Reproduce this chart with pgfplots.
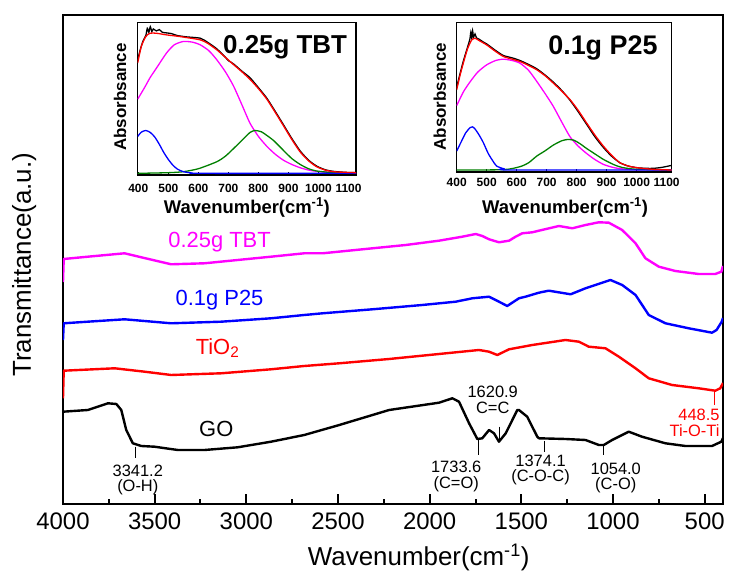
\documentclass[border=0pt]{standalone}
\usepackage{fontspec}
\setmainfont{Liberation Sans}
\usepackage{pgfplots}
\pgfplotsset{compat=1.18}
\definecolor{tbt}{RGB}{255,0,255}
\definecolor{pbl}{RGB}{0,0,255}
\definecolor{tio}{RGB}{255,0,0}
\definecolor{fitg}{RGB}{0,128,0}
\newcommand\fs[1]{\fontsize{#1}{#1}\selectfont}

\begin{document}
\begin{tikzpicture}[x=1bp,y=1bp]
\path[use as bounding box] (0,0) rectangle (731,574);

% ---------------- main FTIR panel ----------------
\begin{axis}[
  at={(63bp,70bp)}, anchor=south west, scale only axis,
  width=660bp, height=489bp,
  x dir=reverse, xmin=400, xmax=4000, ymin=0, ymax=489,
  xtick={500,1000,1500,2000,2500,3000,3500,4000},
  xticklabels={500,1000,1500,2000,2500,3000,3500,4000},
  minor x tick num=1, ytick=\empty, xtick pos=left,
  tick align=inside, major tick length=10bp, minor tick length=5bp,
  every tick/.style={black, line width=2bp},
  axis line style={line width=2.2bp},
  xticklabel style={font=\fs{24}, yshift=-5bp},
  xlabel={Wavenumber(cm\textsuperscript{-1})},
  xlabel style={font=\fs{26}, at={(axis description cs:0.539,-0.125)}, anchor=base},
  ylabel={Transmittance(a.u.)},
  ylabel style={font=\fs{26}, at={(axis description cs:-0.059,0.489)}, anchor=center},
  every axis plot/.append style={line width=2.4bp, line join=round},
]
% 0.25g TBT
\addplot[tbt] coordinates {
(4000,222) (3996,245) (3864,247.3) (3664,250.7) (3573,246.7) (3410,239.7) (3228,240.7)
(3047,244) (2865,247.3) (2684,250.7) (2584,250.7) (2366,254.7) (2130,259) (1949,263.3)
(1822,267.3) (1749,270) (1713,268) (1676,264.7) (1622,261.7) (1567,263.3) (1531,267.3)
(1495,270.7) (1440,271.7) (1404,273.3) (1295,278) (1222,275.7) (1150,279) (1077,281.7)
(1023,281.3) (950,274) (877,260.7) (823,245.7) (750,237.3) (660,233) (533,230) (442,230)
(409,232.3) (400,238)};
% 0.1g P25
\addplot[pbl] coordinates {
(4000,164) (3996,180.7) (3865,182.3) (3664,184.7) (3410,180.7) (3137,182.3) (2865,185.7)
(2684,189) (2584,190.7) (2312,194.7) (2040,199) (1858,202.3) (1767,205.7) (1676,207.3)
(1622,202.3) (1577,198) (1513,205.7) (1477,207.3) (1404,211.3) (1350,213.3) (1231,209.7)
(1150,215.7) (1014,224) (950,219) (877,209) (805,189) (714,180.7) (587,175.7) (460,171.3)
(435,174) (407,182.3) (400,186)};
% TiO2
\addplot[tio] coordinates {
(4000,105.7) (3996,133.3) (3718,135.7) (3555,132.3) (3410,129) (3137,130.7) (2865,134.7)
(2684,138) (2493,140.7) (2221,145) (1949,150) (1731,154) (1676,152.3) (1631,149) (1567,154.7)
(1440,159) (1259,164) (1186,162.3) (1132,157.3) (1041,155.7) (968,147.3) (877,135.7)
(805,125.7) (678,119) (533,115.7) (442,113.3) (415,115.7) (400,121)};
% GO
\addplot[black] coordinates {
(4000,92.3) (3864,94) (3755,100.7) (3709,100) (3682,94) (3655,74) (3619,60.7) (3573,58)
(3501,57.3) (3374,54) (3228,54) (3047,56.7) (2865,62.3) (2684,69) (2493,79) (2221,94)
(1949,101.3) (1876,105.7) (1840,102.3) (1785,80.7) (1740,65) (1713,65.7) (1676,74)
(1649,70.7) (1622,62.3) (1585,70.7) (1522,94) (1513,94) (1468,87.3) (1413,67.3) (1404,65.7)
(1259,65) (1150,64) (1077,59) (1050,59) (1005,64) (914,72.3) (842,67.3) (714,60.7)
(605,58) (460,58) (409,62.3) (400,66)};

% curve names
\node[tbt, font=\fs{22}] at (axis cs:3146,262.3) {0.25g TBT};
\node[pbl, font=\fs{22}] at (axis cs:3146,204) {0.1g P25};
\node[tio, font=\fs{22}] at (axis cs:3157,156) {TiO\textsubscript{2}};
\node[black, font=\fs{22}] at (axis cs:3164,74.7) {GO};

% band assignments
\begin{scope}[line width=1bp]
\draw (axis cs:3604,57.3) -- (axis cs:3604,46);
\draw (axis cs:1733.6,64) -- (axis cs:1733.6,49);
\draw (axis cs:1620.9,77.3) -- (axis cs:1620.9,62.3);
\draw (axis cs:1374.1,63) -- (axis cs:1374.1,52);
\draw (axis cs:1054.0,59) -- (axis cs:1054.0,49);
\draw[tio] (axis cs:448.5,112) -- (axis cs:448.5,99);
\end{scope}
\begin{scope}[every node/.style={font=\fontsize{16.5}{15.5}\selectfont, inner sep=0pt, align=center}]
\node at (axis cs:3592,24) {3341.2\\(O-H)};
\node at (axis cs:1855,27.5) {1733.6\\(C=O)};
\node at (axis cs:1656,104) {1620.9\\C=C};
\node at (axis cs:1395,34) {1374.1\\(C-O-C)};
\node at (axis cs:985,26) {1054.0\\(C-O)};
\node[tio, align=right, anchor=east] at (axis cs:418,81) {448.5\\Ti-O-Ti};
\end{scope}
\end{axis}

% ---------------- inset: 0.25g TBT ----------------
\begin{axis}[
  at={(137.7bp,399bp)}, anchor=south west, scale only axis,
  width=218.3bp, height=152.3bp,
  xmin=398, xmax=1125, ymin=-5, ymax=457,
  xtick={400,500,600,700,800,900,1000,1100},
  xticklabels={400,500,600,700,800,900,1000,1100},
  ytick=\empty, xtick pos=left, tick align=inside, major tick length=3bp,
  every tick/.style={black, line width=1bp},
  axis line style={line width=1.4bp},
  axis background/.style={fill=white},
  xticklabel style={font=\bfseries\fs{12}, yshift=-6bp},
  xlabel={Wavenumber(cm\textsuperscript{-1})},
  xlabel style={font=\bfseries\fs{18.5}, at={(axis description cs:0.5,-0.251)}, anchor=base},
  ylabel={Absorbsance},
  ylabel style={font=\bfseries\fs{17}, at={(axis description cs:-0.081,0.512)}, anchor=center},
  every axis plot/.append style={line width=1.3bp, smooth, tension=0.4},
]
\addplot[black] coordinates {
(398,345) (405,370) (415,400) (425,418) (430,440) (435,428) (440,445) (445,430) (450,438)
(460,432) (470,436) (480,428) (494,426) (510,424) (530,418) (560,414) (606,410) (630,398)
(661,378) (690,352) (700,342) (717,332) (745,310) (772,290) (800,260) (828,228) (856,188)
(883,148) (911,106) (939,68) (967,40) (994,22) (1022,11) (1050,6) (1090,3) (1125,2)};
\addplot[tbt] coordinates {
(398,225) (422,262) (439,290) (461,320) (494,365) (520,390) (550,400) (580,398) (606,390)
(635,372) (661,345) (690,308) (717,265) (745,208) (772,152) (800,112) (828,82) (856,58)
(883,40) (911,27) (939,17) (967,10) (994,6) (1050,2) (1125,0)};
\addplot[fitg] coordinates {
(398,0) (500,2) (550,5) (600,14) (661,35) (690,52) (717,75) (745,100) (772,124) (789,130)
(810,126) (828,115) (850,100) (883,70) (911,45) (939,27) (967,14) (994,7) (1050,2) (1125,0)};
\addplot[pbl] coordinates {
(398,112) (410,125) (425,130) (440,124) (455,110) (470,88) (485,63) (500,42) (515,25)
(530,13) (550,5) (580,1) (620,0) (1125,0)};
\addplot[tio] coordinates {
(398,335) (410,385) (425,415) (439,425) (460,425) (494,420) (530,416) (560,412) (606,405)
(630,395) (661,375) (690,352) (717,330) (745,308) (772,285) (800,257) (828,225) (856,185)
(883,145) (911,103) (939,65) (967,38) (994,20) (1022,10) (1050,5) (1090,3) (1125,2)};
\node[font=\bfseries\fs{26}] at (rel axis cs:0.675,0.842) {0.25g TBT};
\end{axis}

% ---------------- inset: 0.1g P25 ----------------
\begin{axis}[
  at={(456.7bp,402bp)}, anchor=south west, scale only axis,
  width=215bp, height=149.3bp,
  xmin=400, xmax=1117, ymin=-6, ymax=444,
  xtick={400,500,600,700,800,900,1000,1100},
  xticklabels={400,500,600,700,800,900,1000,1100},
  ytick=\empty, xtick pos=left, tick align=inside, major tick length=3bp,
  every tick/.style={black, line width=1bp},
  axis line style={line width=1.4bp},
  axis background/.style={fill=white},
  xticklabel style={font=\bfseries\fs{12}, yshift=-3bp},
  xlabel={Wavenumber(cm\textsuperscript{-1})},
  xlabel style={font=\bfseries\fs{18.5}, at={(axis description cs:0.504,-0.275)}, anchor=base},
  ylabel={Absorbsance},
  ylabel style={font=\bfseries\fs{17}, at={(axis description cs:-0.078,0.504)}, anchor=center},
  every axis plot/.append style={line width=1.3bp, smooth, tension=0.4},
]
\addplot[black] coordinates {
(400,250) (411,290) (422,328) (436,370) (444,395) (447,415) (450,398) (453,420) (456,400)
(461,410) (466,398) (475,394) (490,385) (500,380) (530,360) (556,345) (585,338) (611,330)
(640,318) (667,305) (695,286) (722,265) (750,240) (778,210) (805,176) (833,138) (861,100)
(889,68) (916,42) (944,22) (972,12) (1000,7) (1030,5) (1056,5) (1085,8) (1117,14)};
\addplot[tbt] coordinates {
(400,194) (422,235) (444,265) (470,295) (500,317) (530,330) (556,334) (585,330) (611,322)
(640,300) (667,267) (695,230) (722,192) (750,145) (778,100) (805,72) (833,50) (860,32)
(889,17) (916,9) (944,4) (1000,1) (1117,0)};
\addplot[fitg] coordinates {
(400,0) (556,1) (611,10) (640,22) (667,42) (695,58) (722,75) (750,88) (770,92) (790,90)
(810,80) (833,65) (855,52) (889,32) (922,17) (950,8) (1000,2) (1117,0)};
\addplot[pbl] coordinates {
(400,57) (415,85) (430,112) (445,128) (452,130) (460,125) (475,105) (489,82) (505,50)
(520,28) (533,12) (556,4) (578,0) (1117,0)};
\addplot[tio] coordinates {
(400,242) (411,285) (422,322) (436,365) (450,392) (461,397) (475,390) (500,377) (530,357)
(556,342) (585,334) (611,327) (640,315) (667,302) (695,284) (722,262) (750,238) (778,212)
(805,180) (833,142) (861,105) (889,72) (916,45) (944,22) (972,12) (1000,7) (1056,2) (1117,0)};
\node[font=\bfseries\fs{27}] at (rel axis cs:0.68,0.83) {0.1g P25};
\end{axis}
\end{tikzpicture}
\end{document}
